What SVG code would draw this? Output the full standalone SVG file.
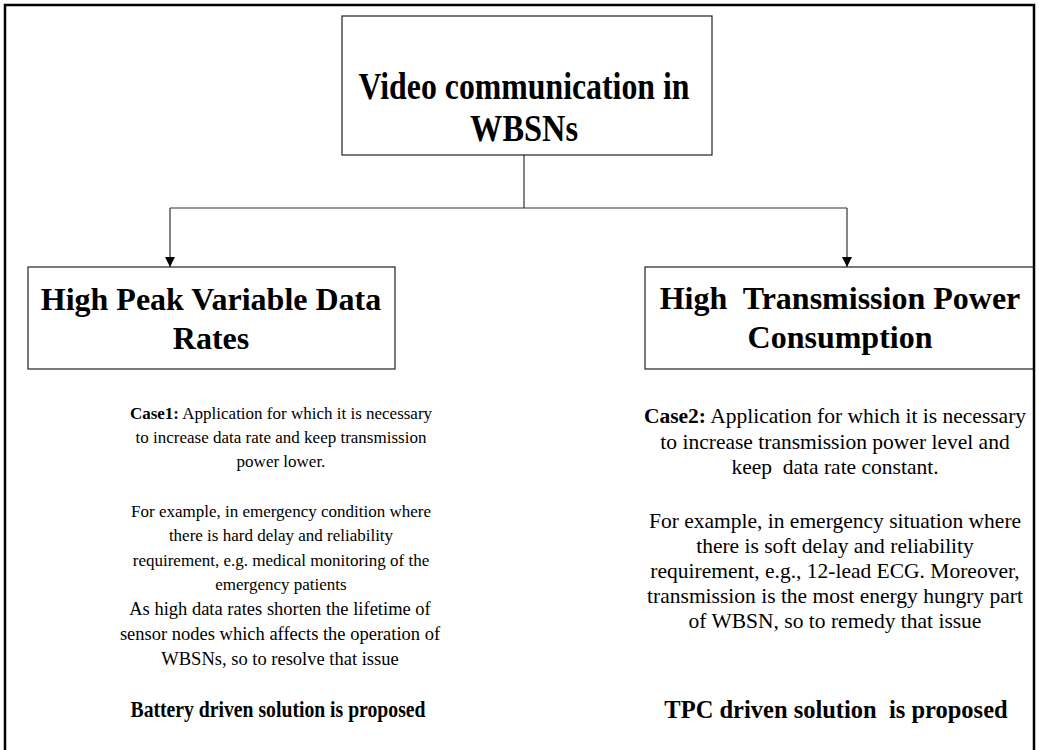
<svg xmlns="http://www.w3.org/2000/svg" width="1039" height="750" viewBox="0 0 1039 750">
<defs>
<marker id="arr" viewBox="0 0 10 10" refX="10" refY="5" markerWidth="10" markerHeight="10" markerUnits="userSpaceOnUse" orient="auto">
<path d="M0,0 L10,5 L0,10 z" fill="#000"/>
</marker>
<style>
.box{fill:#fff;stroke:#222;stroke-width:1.2}
.hd{font-family:"Liberation Serif","Times New Roman",serif;font-weight:bold;fill:#000;text-anchor:middle}
.bd{font-family:"Liberation Serif","Times New Roman",serif;fill:#000;text-anchor:middle}
.cn{fill:none;stroke:#333;stroke-width:1.2}
</style>
</defs>
<rect width="1039" height="750" fill="#fff"/>
<g id="connectors">
<path class="cn" d="M524,155 V208"/>
<path class="cn" d="M170,208 H847"/>
<path class="cn" d="M170,208 V267" marker-end="url(#arr)"/>
<path class="cn" d="M847,208 V267" marker-end="url(#arr)"/>
</g>
<g id="root">
<rect class="box" x="342" y="16" width="370" height="139"/>
<text class="hd" x="524" y="99" font-size="37" textLength="331" lengthAdjust="spacingAndGlyphs">Video communication in</text>
<text class="hd" x="524" y="141" font-size="37" textLength="108" lengthAdjust="spacingAndGlyphs">WBSNs</text>
</g>
<g id="left">
<rect class="box" x="28" y="267" width="367" height="102"/>
<text class="hd" x="211" y="310" font-size="32">High Peak Variable Data</text>
<text class="hd" x="211" y="349" font-size="32">Rates</text>
</g>
<g id="right">
<rect class="box" x="645" y="267" width="389" height="102"/>
<text class="hd" x="840" y="309" font-size="32" xml:space="preserve">High  Transmission Power</text>
<text class="hd" x="840" y="348" font-size="32">Consumption</text>
</g>
<path d="M5,752 V5 H1034 V752" fill="none" stroke="#000" stroke-width="2.5"/>
<g id="case1" class="bd" font-size="17">
<text x="281" y="419"><tspan font-weight="bold">Case1:</tspan> Application for which it is necessary</text>
<text x="281" y="443">to increase data rate and keep transmission</text>
<text x="281" y="467">power lower.</text>
<text x="281" y="517">For example, in emergency condition where</text>
<text x="281" y="541">there is hard delay and reliability</text>
<text x="281" y="566">requirement, e.g. medical monitoring of the</text>
<text x="281" y="590">emergency patients</text>
<text x="280" y="615" font-size="18.5">As high data rates shorten the lifetime of</text>
<text x="280" y="640" font-size="18.5">sensor nodes which affects the operation of</text>
<text x="280" y="665" font-size="18.5">WBSNs, so to resolve that issue</text>
</g>
<g id="case2" class="bd" font-size="21.5">
<text x="835" y="423"><tspan font-weight="bold">Case2:</tspan> Application for which it is necessary</text>
<text x="835" y="449">to increase transmission power level and</text>
<text x="835" y="474" xml:space="preserve">keep  data rate constant.</text>
<text x="835" y="528">For example, in emergency situation where</text>
<text x="835" y="553">there is soft delay and reliability</text>
<text x="835" y="578">requirement, e.g., 12-lead ECG. Moreover,</text>
<text x="835" y="603">transmission is the most energy hungry part</text>
<text x="835" y="628">of WBSN, so to remedy that issue</text>
</g>
<g id="sol1">
<text class="hd" x="278" y="717" font-size="24" textLength="295" lengthAdjust="spacingAndGlyphs">Battery driven solution is proposed</text>
</g>
<g id="sol2">
<text class="hd" x="836" y="718" font-size="24.5" xml:space="preserve">TPC driven solution  is proposed</text>
</g>
</svg>
